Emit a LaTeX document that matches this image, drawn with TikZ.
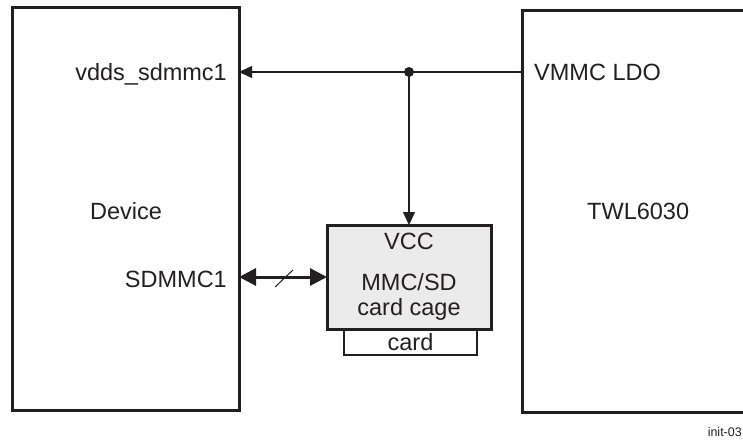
\documentclass[tikz,border=0pt]{standalone}
\usepackage{fontspec}
\setmainfont{Liberation Sans}
\usetikzlibrary{arrows.meta}
\definecolor{ink}{HTML}{231F20}
\definecolor{cagefill}{HTML}{EBEBEB}
\begin{document}
\begin{tikzpicture}[x=1pt,y=-1pt,
  every node/.style={text=ink},
  bigbox/.style={draw=ink,line width=3pt,rectangle,inner sep=0pt,outer sep=0pt},
  cagebox/.style={draw=ink,line width=3pt,fill=cagefill,rectangle,inner sep=0pt,outer sep=0pt},
  cardbox/.style={draw=ink,line width=1.5pt,rectangle,inner sep=0pt,outer sep=0pt},
  lbl/.style={font=\fontsize{23.5}{27}\selectfont,inner sep=0pt},
  small/.style={font=\fontsize{12.5}{15}\selectfont,inner sep=0pt},
  wire/.style={draw=ink,line width=1.3pt},
  bus/.style={draw=ink,line width=3pt,{Triangle[length=17pt,width=17pt]}-{Triangle[length=17pt,width=17pt]}},
  tick/.style={draw=ink,line width=1pt}
]
\useasboundingbox (0,0) rectangle (743,439);
\clip (0,0) rectangle (743,439);
% boxes
\node[bigbox,minimum width=227pt,minimum height=403pt] (dev) at (125.5,208.5) {};
\node[bigbox,minimum width=228pt,minimum height=402pt] (twl) at (636,211) {};
\node[cardbox,minimum width=133pt,minimum height=26pt] (card) at (410.5,342) {};
\node[cagebox,minimum width=164pt,minimum height=104pt] (cage) at (409,277) {};
% labels
\node[lbl,anchor=base east] (vdds) at (227,80) {vdds\_sdmmc1};
\node[lbl,anchor=base west] (vmmc) at (534,80) {VMMC LDO};
\node[lbl,anchor=base west] (devlbl) at (90,219) {Device};
\node[lbl,anchor=base east] (sdmmc) at (227,287) {SDMMC1};
\node[lbl,anchor=base west] (twllbl) at (587,219) {TWL6030};
\node[lbl,anchor=base] (vcc) at (409,249) {VCC};
\node[lbl,anchor=base] (mmcsd) at (409,290) {MMC/SD};
\node[lbl,anchor=base] (cagelbl) at (409,315) {card cage};
\node[lbl,anchor=base] (cardlbl) at (410.5,350) {card};
\node[small,anchor=base east] (fig) at (742,436) {init-03};
% connectors
\coordinate (dot) at (409,72);
\draw[wire,-{Triangle[length=13pt,width=12pt]}] (dot) -- (dev.east |- dot);
\draw[wire] (dot) -- (twl.west |- dot);
\draw[wire,-{Triangle[length=13pt,width=12pt]}] (dot) -- (cage.north);
\fill[ink] (dot) circle (5pt);
\draw[bus] (cage.west -| dev.east) -- (cage.west);
\draw[tick] (275,287) -- (293,270);
\end{tikzpicture}
\end{document}
